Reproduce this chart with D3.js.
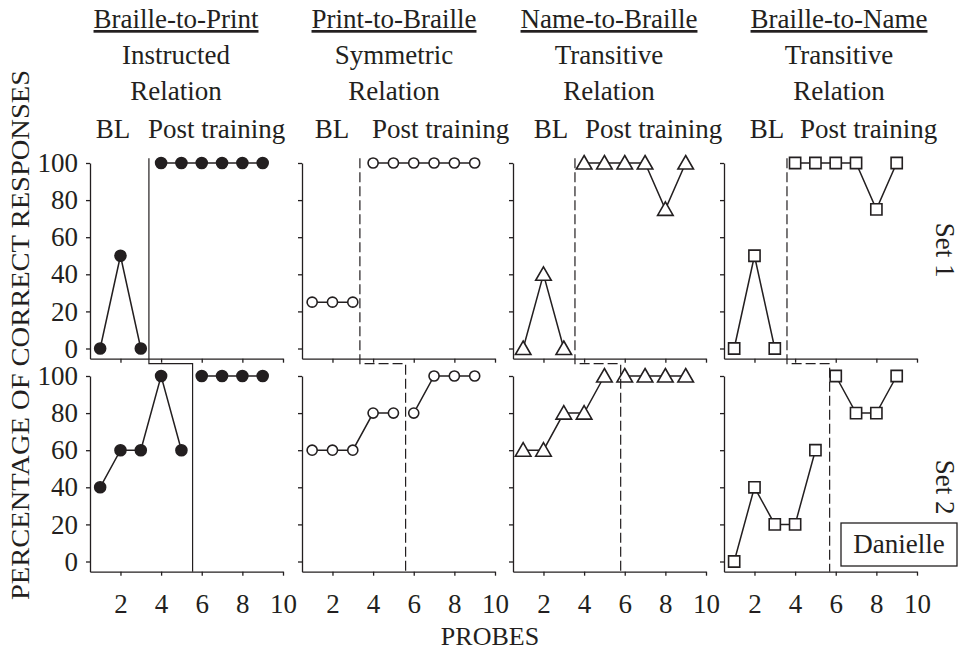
<!DOCTYPE html>
<html>
<head>
<meta charset="utf-8">
<script src="https://cdn.jsdelivr.net/npm/d3@7"></script>
<style>
  body { margin: 0; background: #fff; }
  text { font-family: "Liberation Serif", "Times New Roman", serif; fill: #231f20; }
</style>
</head>
<body>
<svg id="chart"></svg>
<script>
// Data
const probes = [1, 2, 3, 4, 5, 6, 7, 8, 9];
const conditions = ["Braille-to-Print", "Print-to-Braille", "Name-to-Braille", "Braille-to-Name"];
const relations = ["Instructed", "Symmetric", "Transitive", "Transitive"];
const sets = ["Set 1", "Set 2"];
const set1 = [
  [0, 50, 0, 100, 100, 100, 100, 100, 100],
  [25, 25, 25, 100, 100, 100, 100, 100, 100],
  [0, 40, 0, 100, 100, 100, 100, 75, 100],
  [0, 50, 0, 100, 100, 100, 100, 75, 100]
];
const set2 = [
  [40, 60, 60, 100, 60, 100, 100, 100, 100],
  [60, 60, 60, 80, 80, 80, 100, 100, 100],
  [60, 60, 80, 80, 100, 100, 100, 100, 100],
  [0, 40, 20, 20, 60, 100, 80, 80, 100]
];
const baselineCount = [3, 5];          // probes before the phase change, per set
const phaseSet1 = [3.4, 3.35, 3.55, 3.6];
const phaseSet2 = [5.55, 5.6, 5.8, 5.7];
const yTicks = [0, 20, 40, 60, 80, 100];
const xTicks = [2, 4, 6, 8, 10];
const participant = "Danielle";

// Layout
const width = 959, height = 654;
const colX = [90, 302, 513, 724];
const panelW = 193;
const rowTop = [163, 376];
const unitH = 1.855;                     // px per percent
const titleX = [176, 394, 609, 839];
const blX = [113, 332, 551, 767];
const postX = [148, 372, 585, 800];
const ink = "#231f20";
const fs = 27;

const svg = d3.select("#chart").attr("width", width).attr("height", height);

const x = d3.scaleLinear().domain([0.5, 10]).range([0, panelW]);
const y = d3.scaleLinear().domain([-5.5, 100]).range([105.5 * unitH, 0]);

// marker shapes per column
const markers = [
  { type: d3.symbolCircle, size: 95, fill: ink },
  { type: d3.symbolCircle, size: 80, fill: "#fff" },
  { type: d3.symbolTriangle, size: 105, fill: "#fff" },
  { type: d3.symbolSquare, size: 125, fill: "#fff" }
];

// Column headers
conditions.forEach((c, i) => {
  svg.append("text").attr("x", titleX[i]).attr("y", 28).attr("text-anchor", "middle")
    .attr("font-size", fs).style("text-decoration", "underline").text(c);
  svg.append("text").attr("x", titleX[i]).attr("y", 64).attr("text-anchor", "middle")
    .attr("font-size", fs).text(relations[i]);
  svg.append("text").attr("x", titleX[i]).attr("y", 100).attr("text-anchor", "middle")
    .attr("font-size", fs).text("Relation");
  svg.append("text").attr("x", blX[i]).attr("y", 138).attr("text-anchor", "middle")
    .attr("font-size", fs).text("BL");
  svg.append("text").attr("x", postX[i]).attr("y", 138)
    .attr("font-size", fs).text("Post training");
});

[set1, set2].forEach((setData, r) => {
  conditions.forEach((c, i) => {
    const g = svg.append("g").attr("transform", `translate(${colX[i]},${rowTop[r]})`);

    const ya = g.append("g").call(d3.axisLeft(y).tickValues(yTicks).tickSize(4).tickSizeOuter(0).tickPadding(8));
    if (i > 0) ya.selectAll("text").remove();
    const xa = g.append("g").attr("transform", `translate(0,${y(-5.5)})`)
      .call(d3.axisBottom(x).tickValues(xTicks).tickSize(4).tickSizeOuter(0).tickPadding(18));
    if (r === 0) xa.selectAll("text").remove();
    [ya, xa].forEach(a => {
      a.selectAll("path, line").attr("stroke", ink).attr("stroke-width", 1.3);
      a.selectAll("text").attr("font-size", fs).attr("fill", ink)
        .style("font-family", '"Liberation Serif", "Times New Roman", serif');
    });

    const pts = probes.map((p, k) => ({ p, v: setData[i][k] }));
    const phases = [pts.slice(0, baselineCount[r]), pts.slice(baselineCount[r])];
    const line = d3.line().x(d => x(d.p)).y(d => y(d.v));
    phases.forEach(ph => {
      g.append("path").attr("d", line(ph)).attr("fill", "none")
        .attr("stroke", ink).attr("stroke-width", 1.5);
    });
    const m = markers[i];
    g.selectAll(".pt").data(pts).join("path")
      .attr("class", "pt")
      .attr("transform", d => `translate(${x(d.p)},${y(d.v) + (m.type === d3.symbolTriangle ? 1.5 : 0)})`)
      .attr("d", d3.symbol().type(m.type).size(m.size))
      .attr("fill", m.fill).attr("stroke", ink).attr("stroke-width", 1.6);
  });
});

// Phase-change lines, stepping from set 1 to set 2
conditions.forEach((c, i) => {
  const x1 = colX[i] + x(phaseSet1[i]);
  const x2 = colX[i] + x(phaseSet2[i]);
  const top = rowTop[0] + y(102.5);
  const step = rowTop[0] + y(-5.5) + 5;
  const bottom = rowTop[1] + y(-5.5);
  svg.append("path")
    .attr("d", `M${x1},${top}V${step}H${x2}V${bottom}`)
    .attr("fill", "none").attr("stroke", ink).attr("stroke-width", 1.2)
    .attr("stroke-dasharray", i === 0 ? null : "10,4");
});

// Set labels
sets.forEach((s, r) => {
  svg.append("text")
    .attr("transform", `translate(936,${r === 0 ? 250 : 487}) rotate(90)`)
    .attr("text-anchor", "middle").attr("font-size", fs).text(s);
});

// Participant box
svg.append("rect").attr("x", 841).attr("y", 523).attr("width", 116).attr("height", 43)
  .attr("fill", "#fff").attr("stroke", ink).attr("stroke-width", 1.3);
svg.append("text").attr("x", 899).attr("y", 553).attr("text-anchor", "middle")
  .attr("font-size", 27).text(participant);

// Axis titles
svg.append("text")
  .attr("transform", "translate(29,335) rotate(-90)")
  .attr("text-anchor", "middle").attr("font-size", 26)
  .attr("textLength", 530).attr("lengthAdjust", "spacingAndGlyphs")
  .text("PERCENTAGE OF CORRECT RESPONSES");
svg.append("text").attr("x", 490).attr("y", 645).attr("text-anchor", "middle")
  .attr("font-size", 26).text("PROBES");
</script>
</body>
</html>
